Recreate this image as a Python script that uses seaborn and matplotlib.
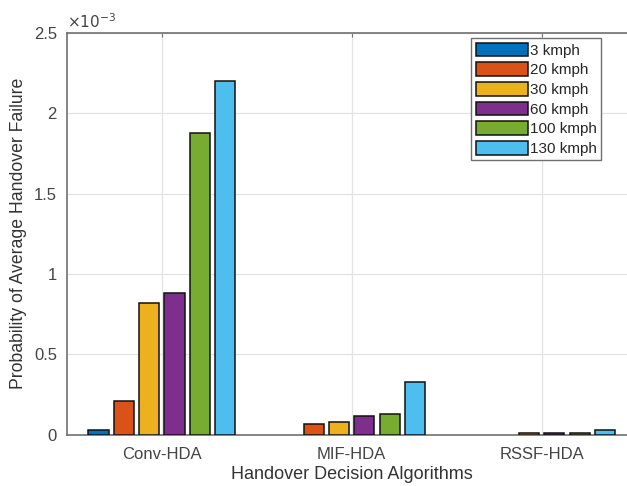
import matplotlib
matplotlib.use("Agg")
import matplotlib.pyplot as plt
import seaborn as sns
import pandas as pd
from matplotlib.ticker import FuncFormatter, FixedLocator

# Data (values in units of 1e-3)
algorithms = ["Conv-HDA", "MIF-HDA", "RSSF-HDA"]
speeds = ["3 kmph", "20 kmph", "30 kmph", "60 kmph", "100 kmph", "130 kmph"]
conv_hda = [0.025, 0.21, 0.82, 0.88, 1.88, 2.20]
mif_hda = [0.0, 0.065, 0.08, 0.115, 0.13, 0.33]
rssf_hda = [0.0, 0.0, 0.012, 0.012, 0.012, 0.027]
yticks = [0, 0.5, 1, 1.5, 2, 2.5]

colors = ["#0072BD", "#D95319", "#EDB120", "#7E2F8E", "#77AC30", "#4DBEEE"]

rows = []
for alg, vals in zip(algorithms, [conv_hda, mif_hda, rssf_hda]):
    for sp, v in zip(speeds, vals):
        rows.append({"Algorithm": alg, "Speed": sp, "Value": v})
df = pd.DataFrame(rows)

sns.set_theme(style="white")
plt.rcParams['font.family'] = ['Liberation Sans', 'DejaVu Sans']

fig = plt.figure(figsize=(6.27, 4.86), dpi=100)
W, H = 627, 486
ax = fig.add_axes([66.7 / W, 1 - 434.5 / H, 570 / W, 401.5 / H])

sns.barplot(data=df, x="Algorithm", y="Value", hue="Speed", order=algorithms,
            hue_order=speeds, palette=colors, gap=0.2, width=0.8,
            edgecolor="#111111", linewidth=1.1, saturation=1, ax=ax, zorder=3)

# hide outlines of zero-height bars (only the real bars, not legend handles)
for cont in ax.containers:
    for p in cont:
        if p.get_height() == 0:
            p.set_linewidth(0)

ax.set_xlim(-0.5, 2.5)
ax.set_ylim(0, 2.5)
ax.yaxis.set_major_locator(FixedLocator(yticks))
ax.yaxis.set_major_formatter(FuncFormatter(lambda v, p: "%g" % v))

ax.grid(True, color="#e3e3e3", linewidth=0.9, zorder=0)
ax.set_axisbelow(True)
for s in ["left", "bottom", "top", "right"]:
    ax.spines[s].set_color("#707070")
    ax.spines[s].set_linewidth(1.2)
ax.tick_params(axis="both", direction="in", length=3, width=0.8, colors="#707070",
               labelcolor="#444444", labelsize=12, top=True, right=True)
ax.tick_params(axis="x", pad=9)
ax.tick_params(axis="y", pad=7)

ax.set_xlabel("Handover Decision Algorithms", fontsize=13, color="#333333", labelpad=3)
ax.set_ylabel("Probability of Average Handover Failure", fontsize=12.7, color="#333333", labelpad=5)

ax.text(0.0, 1.005, r"$\times10^{-3}$", transform=ax.transAxes, ha="left", va="bottom",
        fontsize=11, color="#444444")

handles, labels = ax.get_legend_handles_labels()
for h in handles:
    h.set_edgecolor("#111111")
    h.set_linewidth(1.1)
ax.legend(handles, labels, loc="upper left",
          bbox_to_anchor=(471 / W, 1 - 38 / H), bbox_transform=fig.transFigure,
          borderaxespad=0, frameon=True, fancybox=False, framealpha=1,
          edgecolor="#707070", fontsize=11, handlelength=3.4, handleheight=1.0,
          handletextpad=0.15, labelspacing=0.3, borderpad=0.3, title=None)

fig.savefig("out.png", dpi=100)
